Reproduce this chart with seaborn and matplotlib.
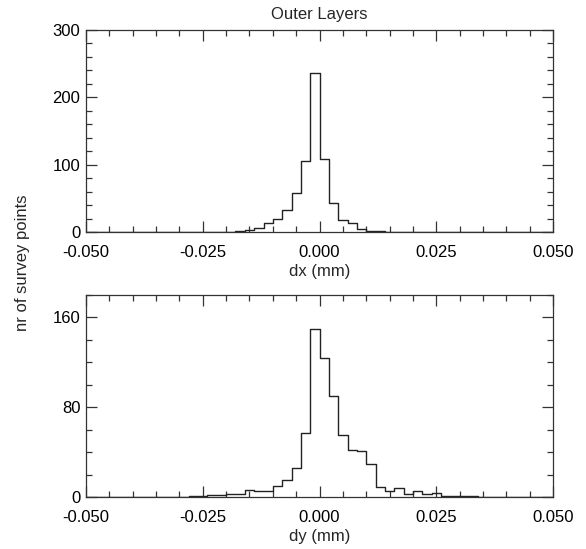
import numpy as np
import pandas as pd
import matplotlib
matplotlib.use("Agg")
import matplotlib.pyplot as plt
import seaborn as sns
from matplotlib.ticker import MultipleLocator, FormatStrFormatter

# histogram bins: 0.002 mm wide from -0.05 to 0.05
bin_edges = np.round(np.arange(-0.05, 0.05 + 1e-9, 0.002), 4)
bin_centers = (bin_edges[:-1] + bin_edges[1:]) / 2

# counts per bin
dx_counts = [0, 0, 0, 0, 0, 0, 0, 0, 0, 0,
             0, 0, 0, 0, 0, 0, 2, 3, 6, 14,
             20, 32, 58, 106, 236, 108, 43, 18, 14, 4,
             2, 1, 0, 0, 0, 0, 0, 0, 0, 0,
             0, 0, 0, 0, 0, 0, 0, 0, 0, 0]
dy_counts = [0, 0, 0, 0, 0, 0, 0, 0, 0, 0,
             0, 1, 1, 2, 2, 3, 3, 6, 5, 5,
             10, 15, 26, 57, 150, 124, 90, 55, 42, 41,
             29, 9, 5, 8, 3, 5, 3, 4, 1, 1,
             1, 1, 0, 0, 0, 0, 0, 0, 0, 0]

title = "Outer Layers"
ylabel = "nr of survey points"

df = pd.DataFrame({"center": bin_centers, "dx": dx_counts, "dy": dy_counts})

sns.set_style("ticks")
plt.rcParams["font.family"] = ["Liberation Sans", "DejaVu Sans"]
plt.rcParams["axes.unicode_minus"] = False
plt.rcParams["font.size"] = 12

fig = plt.figure(figsize=(5.86, 5.49), dpi=100)
ax1 = fig.add_axes([0.1468, 0.5774, 0.797, 0.368])
ax2 = fig.add_axes([0.1468, 0.0947, 0.797, 0.368])


def style_axis(ax, ymax, ymajor, xlabel):
    ax.set_xlim(-0.05, 0.05)
    ax.set_ylim(0, ymax)
    ax.xaxis.set_major_locator(MultipleLocator(0.025))
    ax.xaxis.set_minor_locator(MultipleLocator(0.005))
    ax.xaxis.set_major_formatter(FormatStrFormatter("%.3f"))
    ax.yaxis.set_major_locator(MultipleLocator(ymajor))
    ax.yaxis.set_minor_locator(MultipleLocator(20))
    ax.tick_params(which="both", direction="in", top=True, right=True,
                   colors="#333333", labelcolor="black", labelsize=12)
    ax.tick_params(which="major", length=8, width=0.9)
    ax.tick_params(which="minor", length=4, width=0.9)
    ax.tick_params(axis="x", which="major", pad=9.5)
    ax.tick_params(axis="y", which="major", pad=4)
    for sp in ax.spines.values():
        sp.set_linewidth(0.9)
        sp.set_color("#333333")
        sp.set_visible(True)
    ax.set_xlabel(xlabel, fontsize=12, labelpad=3)
    ax.set_ylabel("")


nbins = len(bin_centers)
sns.histplot(data=df, x="center", weights="dx", bins=nbins, binrange=(-0.05, 0.05),
             element="step", fill=False, color="#222222", linewidth=1.0, ax=ax1)
sns.histplot(data=df, x="center", weights="dy", bins=nbins, binrange=(-0.05, 0.05),
             element="step", fill=False, color="#222222", linewidth=1.0, ax=ax2)

style_axis(ax1, 300, 100, "dx (mm)")
style_axis(ax2, 180, 80, "dy (mm)")

ax1.set_title(title, fontsize=12, pad=8)
fig.text(0.038, 0.521, ylabel, rotation=90, ha="center", va="center", fontsize=12)

fig.savefig("out.png", dpi=100)
